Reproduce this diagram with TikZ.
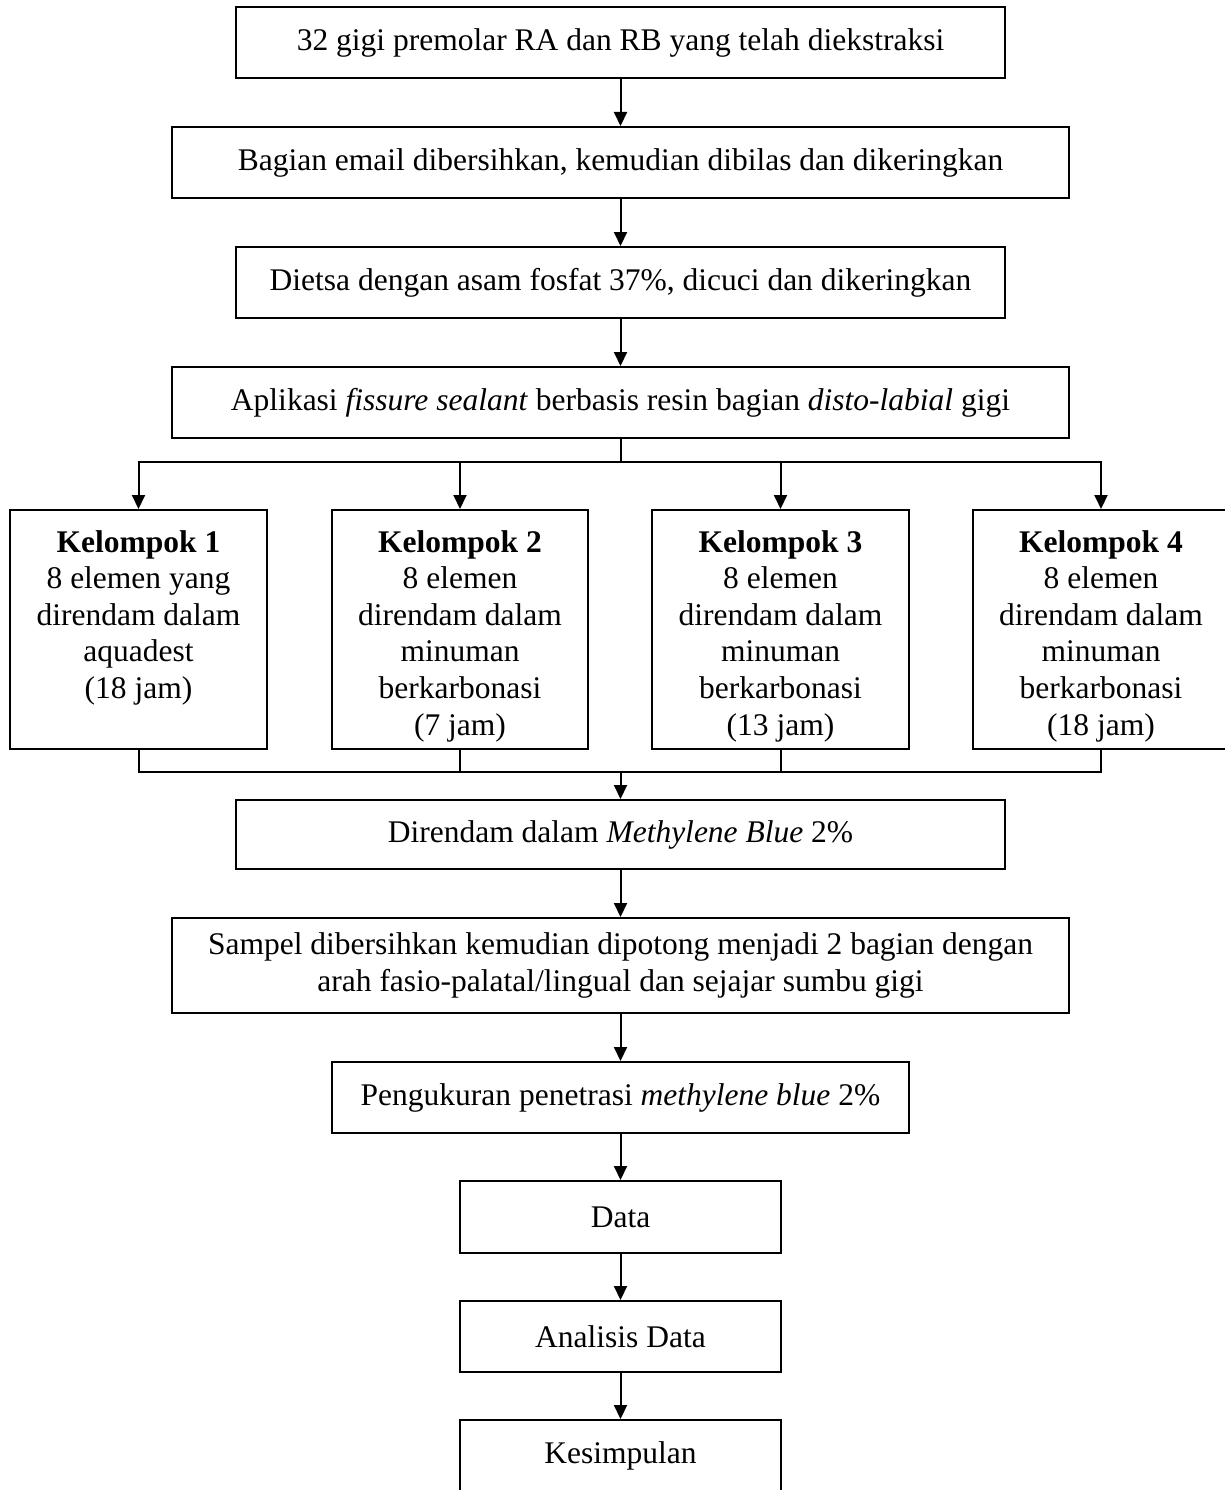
\documentclass[tikz,border=0pt]{standalone}
\usepackage{fontspec}
\setmainfont{Liberation Serif}
\usetikzlibrary{arrows.meta}
\begin{document}
\begin{tikzpicture}[x=1pt,y=-1pt,
  box/.style={draw, line width=2pt, inner sep=0pt, align=center,
    font=\fontsize{31.5}{36.6}\selectfont},
  kbox/.style={draw, line width=2pt, inner sep=0pt, minimum height=239pt},
  ktext/.style={inner sep=0pt, align=center, anchor=north,
    font=\fontsize{31.5}{36.6}\selectfont},
  arr/.style={line width=2pt, -{Triangle[length=14pt,width=13pt]}},
  ln/.style={line width=2pt}]
\useasboundingbox (0,0) rectangle (1225,1490);
\node[box, minimum width=769pt, minimum height=71pt] (b1) at (620.5,42.5) {32 gigi premolar RA dan RB yang telah diekstraksi};
\node[box, minimum width=897pt, minimum height=71pt] (b2) at (620.5,162.5) {Bagian email dibersihkan, kemudian dibilas dan dikeringkan};
\node[box, minimum width=769pt, minimum height=71pt] (b3) at (620.5,282.5) {Dietsa dengan asam fosfat 37\%, dicuci dan dikeringkan};
\node[box, minimum width=897pt, minimum height=71pt] (b4) at (620.5,402.5) {Aplikasi \textit{fissure sealant} berbasis resin bagian \textit{disto-labial} gigi};
\node[kbox, minimum width=257pt] (k1) at (138.5,629.5) {};
\node[kbox, minimum width=256pt] (k2) at (460,629.5) {};
\node[kbox, minimum width=257pt] (k3) at (780.5,629.5) {};
\node[kbox, minimum width=256pt] (k4) at (1101,629.5) {};
\node[ktext] (k1t) at (138.5,530) {\textbf{Kelompok 1}\\8 elemen yang\\direndam dalam\\aquadest\\(18 jam)};
\node[ktext] (k2t) at (460,530) {\textbf{Kelompok 2}\\8 elemen\\direndam dalam\\minuman\\berkarbonasi\\(7 jam)};
\node[ktext] (k3t) at (780.5,530) {\textbf{Kelompok 3}\\8 elemen\\direndam dalam\\minuman\\berkarbonasi\\(13 jam)};
\node[ktext] (k4t) at (1101,530) {\textbf{Kelompok 4}\\8 elemen\\direndam dalam\\minuman\\berkarbonasi\\(18 jam)};
\node[box, minimum width=769pt, minimum height=69pt] (mb) at (620.5,834.5) {Direndam dalam \textit{Methylene Blue} 2\%};
\node[box, minimum width=897pt, minimum height=95pt] (sp) at (620.5,965.5) {Sampel dibersihkan kemudian dipotong menjadi 2 bagian dengan\\arah fasio-palatal/lingual dan sejajar sumbu gigi};
\node[box, minimum width=577pt, minimum height=71pt] (pg) at (620.5,1097.5) {Pengukuran penetrasi \textit{methylene blue} 2\%};
\node[box, minimum width=321pt, minimum height=72pt] (da) at (620.5,1217) {Data};
\node[box, minimum width=321pt, minimum height=71pt] (an) at (620.5,1336.5) {Analisis Data};
\node[box, minimum width=321pt, minimum height=72pt] (ks) at (620.5,1456) {Kesimpulan};
\draw[arr] (b1) -- (b2);
\draw[arr] (b2) -- (b3);
\draw[arr] (b3) -- (b4);
\coordinate (br) at (620.5,462);
\draw[ln] (b4.south) -- (br);
\draw[arr] (br) -| (k1.north);
\draw[arr] (br) -| (k2.north);
\draw[arr] (br) -| (k3.north);
\draw[arr] (br) -| (k4.north);
\coordinate (jn) at (620.5,772);
\draw[ln] (k1.south) |- (jn);
\draw[ln] (k2.south) |- (jn);
\draw[ln] (k3.south) |- (jn);
\draw[ln] (k4.south) |- (jn);
\draw[arr] (jn) -- (mb.north);
\draw[arr] (mb) -- (sp);
\draw[arr] (sp) -- (pg);
\draw[arr] (pg) -- (da);
\draw[arr] (da) -- (an);
\draw[arr] (an) -- (ks);
\end{tikzpicture}
\end{document}
